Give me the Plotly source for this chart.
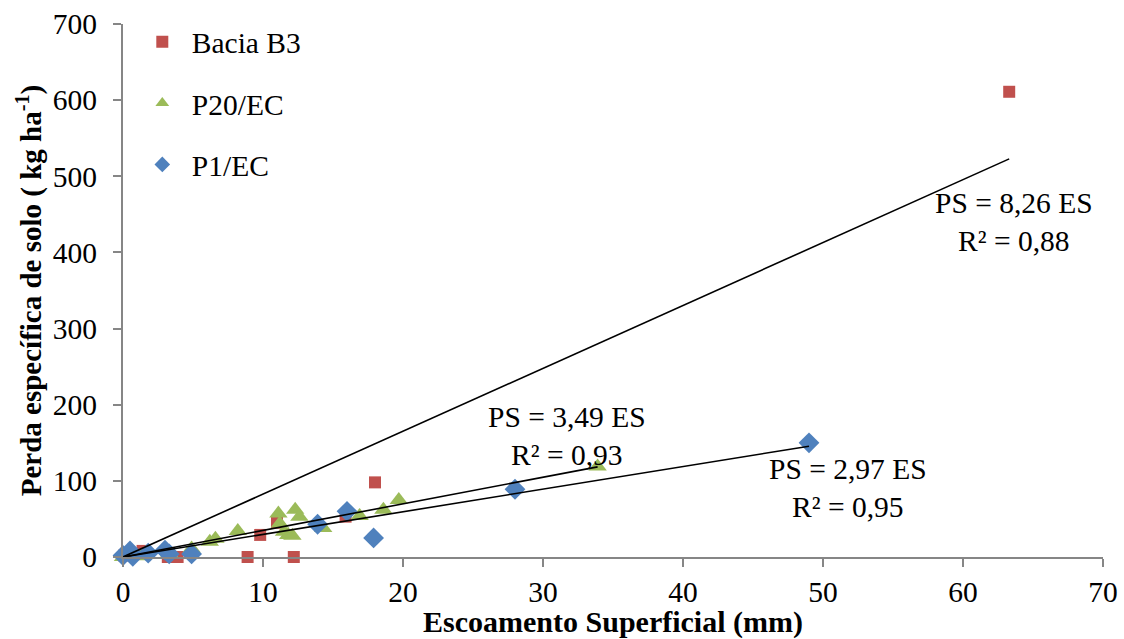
import plotly.graph_objects as go

# Runoff (mm) vs. specific soil loss (kg/ha) per monitoring unit
b3_x = [0.1, 1.4, 3.2, 3.9, 8.9, 9.8, 11.0, 12.2, 15.9, 18.0, 63.3]
b3_y = [2, 8, 0, 0, 0, 29, 45, 0, 53, 98, 611]

p20_x = [0.0, 1.3, 3.3, 4.9, 6.2, 6.6, 8.2, 11.1, 11.2, 11.5, 11.8, 12.1,
         12.3, 12.6, 14.3, 16.9, 18.6, 19.7, 33.9]
p20_y = [0, 1, 5, 11, 20, 24, 34, 57, 44, 33, 29, 28,
         62, 53, 38, 54, 62, 75, 119]

p1_x = [0.0, 0.5, 0.7, 1.8, 3.0, 3.3, 4.9, 13.9, 16.0, 17.9, 28.0, 49.0]
p1_y = [2, 8, 1, 5, 9, 4, 4, 43, 60, 25, 89, 150]

# Regression through origin: PS = a * ES
b3_slope, b3_r2 = 8.26, 0.88
p20_slope, p20_r2 = 3.49, 0.93
p1_slope, p1_r2 = 2.97, 0.95

x_ticks = [0, 10, 20, 30, 40, 50, 60, 70]
y_ticks = [0, 100, 200, 300, 400, 500, 600, 700]

RED, GREEN, BLUE = "#C0504D", "#9BBB59", "#4F81BD"
AXIS = "#868686"
FONT = "Liberation Serif, Times New Roman, serif"
FS = 29.5


def fmt(v):
    return f"{v:.2f}".replace(".", ",")


fig = go.Figure()

fig.add_trace(go.Scatter(x=b3_x, y=b3_y, mode="markers", name="Bacia B3",
                         legendgroup="b3",
                         marker=dict(symbol="square", size=12, color=RED),
                         cliponaxis=False))
fig.add_trace(go.Scatter(x=p20_x, y=p20_y, mode="markers", name="P20/EC",
                         legendgroup="p20",
                         marker=dict(symbol="triangle-up", size=16, color=GREEN),
                         cliponaxis=False))
fig.add_trace(go.Scatter(x=p1_x, y=p1_y, mode="markers", name="P1/EC",
                         legendgroup="p1",
                         marker=dict(symbol="diamond", size=16, color=BLUE),
                         cliponaxis=False))

# Trend lines from the origin to the last observation of each series
for xs, a in [(b3_x, b3_slope), (p20_x, p20_slope), (p1_x, p1_slope)]:
    xe = max(xs)
    fig.add_trace(go.Scatter(x=[0, xe], y=[0, a * xe], mode="lines",
                             line=dict(color="black", width=1.6),
                             showlegend=False, hoverinfo="skip",
                             cliponaxis=False))

# Empty trace that brings the label-only y axis (y2) into the plot
fig.add_trace(go.Scatter(x=[], y=[], yaxis="y2", showlegend=False,
                         hoverinfo="skip"))

# Equation labels
labels = [
    (1014, 203, b3_slope, b3_r2),
    (567, 417, p20_slope, p20_r2),
    (848, 469, p1_slope, p1_r2),
]
for px, py, a, r2 in labels:
    xv = (px - 123.3) / 980 * 70
    yv = (557 - py) / 532.5 * 700
    fig.add_annotation(x=xv, y=yv, xref="x", yref="y", showarrow=False,
                       text=f"PS = {fmt(a)} ES<br>R² = {fmt(r2)}",
                       font=dict(family=FONT, size=FS, color="black"),
                       align="center", yanchor="top", yshift=18)

fig.update_layout(
    width=1124, height=639,
    margin=dict(l=123, r=21, t=24, b=82, autoexpand=False),
    paper_bgcolor="white", plot_bgcolor="white",
    font=dict(family=FONT, size=FS, color="black"),
    showlegend=True,
    legend=dict(x=0.01, y=1.015, xanchor="left", yanchor="top",
                bgcolor="rgba(0,0,0,0)", font=dict(family=FONT, size=FS),
                itemsizing="constant", tracegroupgap=20, itemwidth=49),
    # y axis: line and short tick marks only
    yaxis=dict(range=[0, 700], tickvals=y_ticks, showgrid=False, zeroline=False,
               showline=True, linecolor=AXIS, linewidth=1.5,
               ticks="outside", ticklen=8, tickcolor=AXIS, tickwidth=1.5,
               showticklabels=False, automargin=False),
    # overlaid y axis carrying the tick labels and title, set further out
    yaxis2=dict(range=[0, 700], tickvals=y_ticks, overlaying="y", side="left",
                showgrid=False, zeroline=False, showline=False,
                ticks="outside", ticklen=19, tickcolor="rgba(0,0,0,0)",
                tickfont=dict(size=FS), automargin=False,
                title=dict(text="<b>Perda específica de solo ( kg ha<sup>-1</sup>)</b>",
                           font=dict(size=29), standoff=2)),
)

fig.update_xaxes(range=[0, 70], tickvals=x_ticks, showgrid=False, zeroline=False,
                 showline=True, linecolor=AXIS, linewidth=1.5,
                 ticks="outside", ticklen=8, tickcolor=AXIS, tickwidth=1.5,
                 tickfont=dict(size=FS), automargin=False,
                 title=dict(text="<b>Escoamento Superficial (mm)</b>",
                            font=dict(size=30), standoff=8))

fig.write_html("out.html")
